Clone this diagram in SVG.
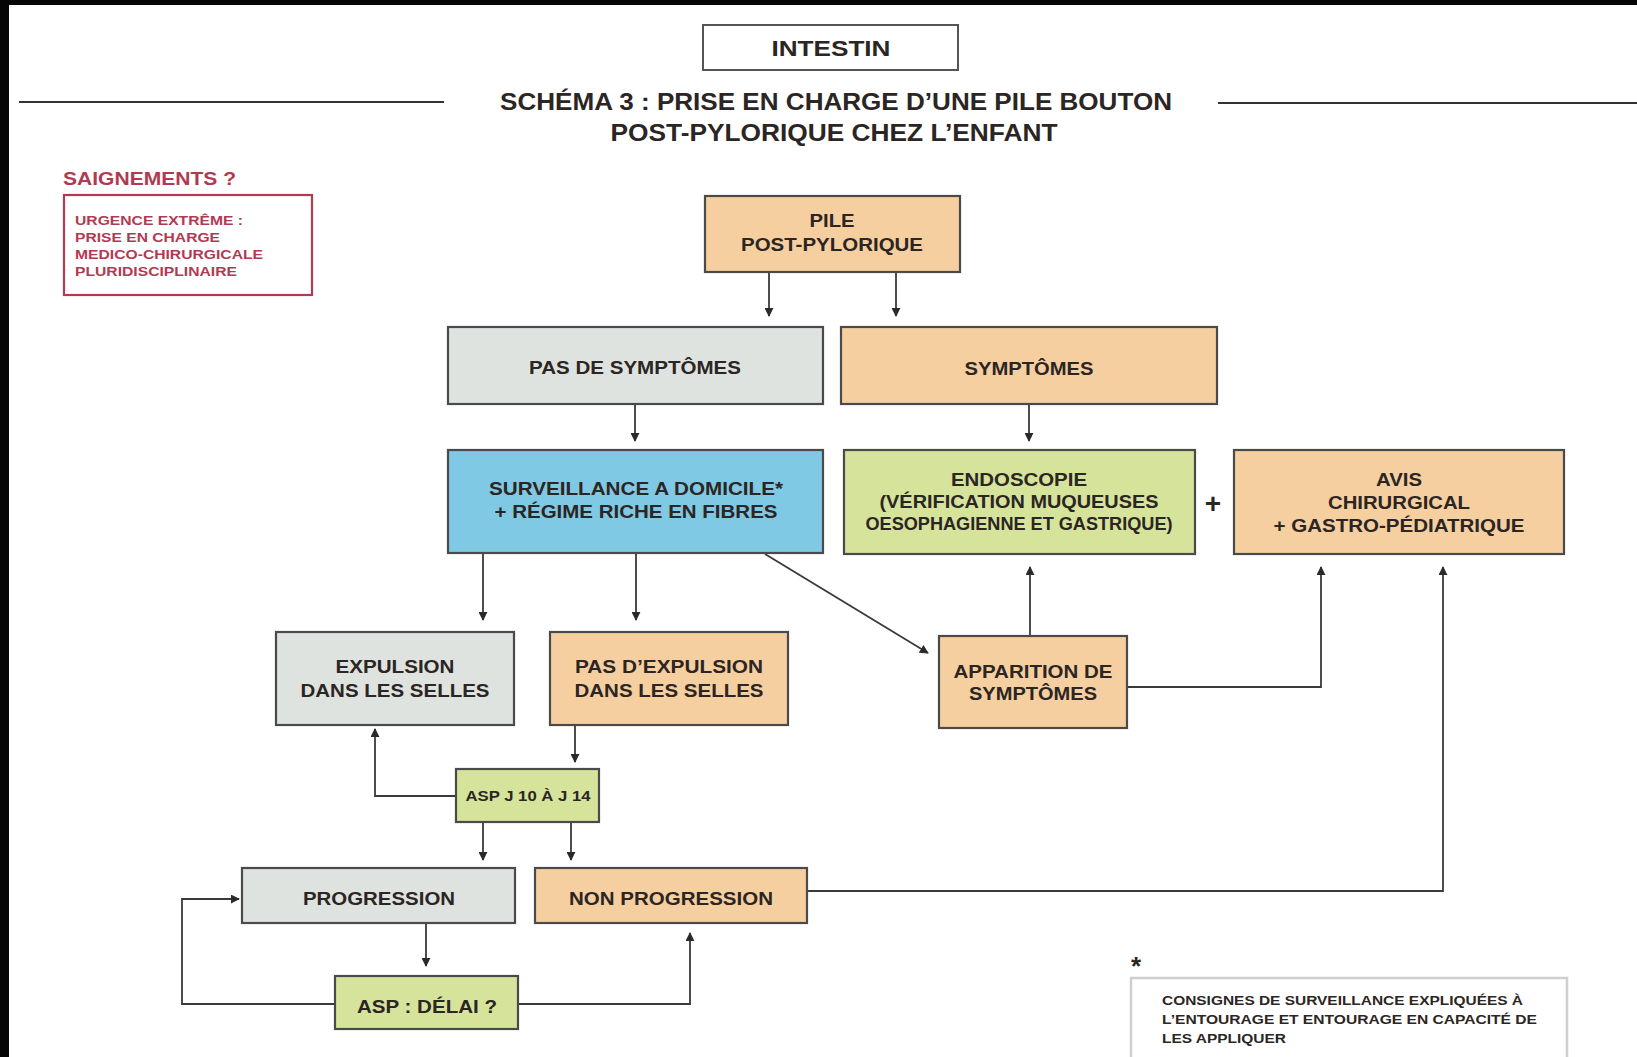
<svg xmlns="http://www.w3.org/2000/svg" width="1637" height="1057" viewBox="0 0 1637 1057">
<style>
text{font-family:"Liberation Sans Narrow","Liberation Sans",Arial,sans-serif;font-weight:bold;fill:#2b2523}
.n{stroke:#4a4a4a;stroke-width:2.2}
.or{fill:#f6cfa0}.gr{fill:#dfe3e0}.bl{fill:#7fc9e4}.gn{fill:#d5e39b}
.t{font-size:18.5px;text-anchor:middle}
.c{fill:none;stroke:#3a3a3a;stroke-width:1.8}
.red{fill:#b13a52}
</style>
<defs>
<marker id="ah" viewBox="0 0 10 10" refX="9" refY="5" markerWidth="9" markerHeight="9" markerUnits="userSpaceOnUse" orient="auto">
<path d="M0,0 L10,5 L0,10 z" fill="#2a2a2a"/>
</marker>
</defs>
<rect x="0" y="0" width="1637" height="1057" fill="#fff"/>
<rect x="0" y="0" width="1637" height="5" fill="#050505"/>
<rect x="0" y="0" width="9" height="1057" fill="#050505"/>

<g id="header">
<rect x="703" y="25" width="255" height="45" fill="#fff" stroke="#555" stroke-width="2"/>
<text x="831" y="56" font-size="22.5" text-anchor="middle" textLength="119" lengthAdjust="spacingAndGlyphs">INTESTIN</text>
<line x1="19" y1="102" x2="444" y2="102" stroke="#333" stroke-width="2"/>
<line x1="1218" y1="103" x2="1637" y2="103" stroke="#333" stroke-width="2"/>
<text x="836" y="110" font-size="23" text-anchor="middle" textLength="672" lengthAdjust="spacingAndGlyphs">SCHÉMA 3 : PRISE EN CHARGE D’UNE PILE BOUTON</text>
<text x="834" y="141" font-size="23" text-anchor="middle" textLength="447" lengthAdjust="spacingAndGlyphs">POST-PYLORIQUE CHEZ L’ENFANT</text>
</g>

<g id="saignements">
<text class="red" x="63" y="185" font-size="18" textLength="173" lengthAdjust="spacingAndGlyphs">SAIGNEMENTS ?</text>
<rect x="64" y="195" width="248" height="100" fill="#fff" stroke="#b13a52" stroke-width="2.2"/>
<text class="red" x="75" y="225" font-size="13.5" textLength="168" lengthAdjust="spacingAndGlyphs">URGENCE EXTRÊME :</text>
<text class="red" x="75" y="242" font-size="13.5" textLength="145" lengthAdjust="spacingAndGlyphs">PRISE EN CHARGE</text>
<text class="red" x="75" y="259" font-size="13.5" textLength="188" lengthAdjust="spacingAndGlyphs">MEDICO-CHIRURGICALE</text>
<text class="red" x="75" y="276" font-size="13.5" textLength="162" lengthAdjust="spacingAndGlyphs">PLURIDISCIPLINAIRE</text>
</g>

<g id="connectors">
<line class="c" x1="769" y1="272" x2="769" y2="316" marker-end="url(#ah)"/>
<line class="c" x1="896" y1="272" x2="896" y2="316" marker-end="url(#ah)"/>
<line class="c" x1="635" y1="404" x2="635" y2="441" marker-end="url(#ah)"/>
<line class="c" x1="1029" y1="404" x2="1029" y2="441" marker-end="url(#ah)"/>
<line class="c" x1="483" y1="553" x2="483" y2="620" marker-end="url(#ah)"/>
<line class="c" x1="636" y1="553" x2="636" y2="620" marker-end="url(#ah)"/>
<line class="c" x1="765" y1="554" x2="928" y2="653" marker-end="url(#ah)"/>
<line class="c" x1="1030" y1="636" x2="1030" y2="567" marker-end="url(#ah)"/>
<polyline class="c" points="1127,687 1321,687 1321,567" marker-end="url(#ah)"/>
<polyline class="c" points="807,891 1443,891 1443,567" marker-end="url(#ah)"/>
<line class="c" x1="575" y1="725" x2="575" y2="762" marker-end="url(#ah)"/>
<polyline class="c" points="456,796 375,796 375,729" marker-end="url(#ah)"/>
<line class="c" x1="483" y1="822" x2="483" y2="860" marker-end="url(#ah)"/>
<line class="c" x1="571" y1="822" x2="571" y2="860" marker-end="url(#ah)"/>
<line class="c" x1="426" y1="923" x2="426" y2="966" marker-end="url(#ah)"/>
<polyline class="c" points="335,1004 182,1004 182,899 239,899" marker-end="url(#ah)"/>
<polyline class="c" points="518,1004 690,1004 690,933" marker-end="url(#ah)"/>
</g>

<g id="pile">
<rect class="n or" x="705" y="196" width="255" height="76"/>
<text class="t" x="832" y="227" textLength="45" lengthAdjust="spacingAndGlyphs">PILE</text>
<text class="t" x="832" y="251" textLength="182" lengthAdjust="spacingAndGlyphs">POST-PYLORIQUE</text>
</g>
<g id="pas-symptomes">
<rect class="n gr" x="448" y="327" width="375" height="77"/>
<text class="t" x="635" y="374" textLength="212" lengthAdjust="spacingAndGlyphs">PAS DE SYMPTÔMES</text>
</g>
<g id="symptomes">
<rect class="n or" x="841" y="327" width="376" height="77"/>
<text class="t" x="1029" y="375" textLength="129" lengthAdjust="spacingAndGlyphs">SYMPTÔMES</text>
</g>
<g id="surveillance">
<rect class="n bl" x="448" y="450" width="375" height="103"/>
<text class="t" x="636" y="495" textLength="294" lengthAdjust="spacingAndGlyphs">SURVEILLANCE A DOMICILE*</text>
<text class="t" x="636" y="518" textLength="283" lengthAdjust="spacingAndGlyphs">+ RÉGIME RICHE EN FIBRES</text>
</g>
<g id="endoscopie">
<rect class="n gn" x="844" y="450" width="351" height="104"/>
<text class="t" x="1019" y="486" textLength="136" lengthAdjust="spacingAndGlyphs">ENDOSCOPIE</text>
<text class="t" x="1019" y="508" textLength="279" lengthAdjust="spacingAndGlyphs">(VÉRIFICATION MUQUEUSES</text>
<text class="t" x="1019" y="530" textLength="307" lengthAdjust="spacingAndGlyphs">OESOPHAGIENNE ET GASTRIQUE)</text>
</g>
<g id="plus">
<text x="1213" y="513" font-size="28" text-anchor="middle">+</text>
</g>
<g id="avis">
<rect class="n or" x="1234" y="450" width="330" height="104"/>
<text class="t" x="1399" y="486" textLength="46" lengthAdjust="spacingAndGlyphs">AVIS</text>
<text class="t" x="1399" y="509" textLength="142" lengthAdjust="spacingAndGlyphs">CHIRURGICAL</text>
<text class="t" x="1399" y="532" textLength="251" lengthAdjust="spacingAndGlyphs">+ GASTRO-PÉDIATRIQUE</text>
</g>
<g id="expulsion">
<rect class="n gr" x="276" y="632" width="238" height="93"/>
<text class="t" x="395" y="673" textLength="119" lengthAdjust="spacingAndGlyphs">EXPULSION</text>
<text class="t" x="395" y="697" textLength="189" lengthAdjust="spacingAndGlyphs">DANS LES SELLES</text>
</g>
<g id="pas-expulsion">
<rect class="n or" x="550" y="632" width="238" height="93"/>
<text class="t" x="669" y="673" textLength="188" lengthAdjust="spacingAndGlyphs">PAS D’EXPULSION</text>
<text class="t" x="669" y="697" textLength="189" lengthAdjust="spacingAndGlyphs">DANS LES SELLES</text>
</g>
<g id="apparition">
<rect class="n or" x="939" y="636" width="188" height="92"/>
<text class="t" x="1033" y="678" textLength="159" lengthAdjust="spacingAndGlyphs">APPARITION DE</text>
<text class="t" x="1033" y="700" textLength="128" lengthAdjust="spacingAndGlyphs">SYMPTÔMES</text>
</g>
<g id="asp-j10">
<rect class="n gn" x="456" y="769" width="143" height="53"/>
<text x="528" y="801" font-size="14" text-anchor="middle" textLength="125" lengthAdjust="spacingAndGlyphs">ASP J 10 À J 14</text>
</g>
<g id="progression">
<rect class="n gr" x="242" y="868" width="273" height="55"/>
<text class="t" x="379" y="905" textLength="152" lengthAdjust="spacingAndGlyphs">PROGRESSION</text>
</g>
<g id="non-progression">
<rect class="n or" x="535" y="868" width="272" height="55"/>
<text class="t" x="671" y="905" textLength="204" lengthAdjust="spacingAndGlyphs">NON PROGRESSION</text>
</g>
<g id="asp-delai">
<rect class="n gn" x="335" y="976" width="183" height="53"/>
<text class="t" x="427" y="1013" textLength="140" lengthAdjust="spacingAndGlyphs">ASP : DÉLAI ?</text>
</g>
<g id="footnote">
<text x="1131" y="975" font-size="26">*</text>
<rect x="1131" y="978" width="436" height="90" fill="#fff" stroke="#cfcfcf" stroke-width="2.5"/>
<text x="1162" y="1005" font-size="13.5" fill="#333" textLength="361" lengthAdjust="spacingAndGlyphs">CONSIGNES DE SURVEILLANCE EXPLIQUÉES À</text>
<text x="1162" y="1024" font-size="13.5" fill="#333" textLength="375" lengthAdjust="spacingAndGlyphs">L’ENTOURAGE  ET ENTOURAGE EN CAPACITÉ DE</text>
<text x="1162" y="1043" font-size="13.5" fill="#333" textLength="124" lengthAdjust="spacingAndGlyphs">LES APPLIQUER</text>
</g>
</svg>
